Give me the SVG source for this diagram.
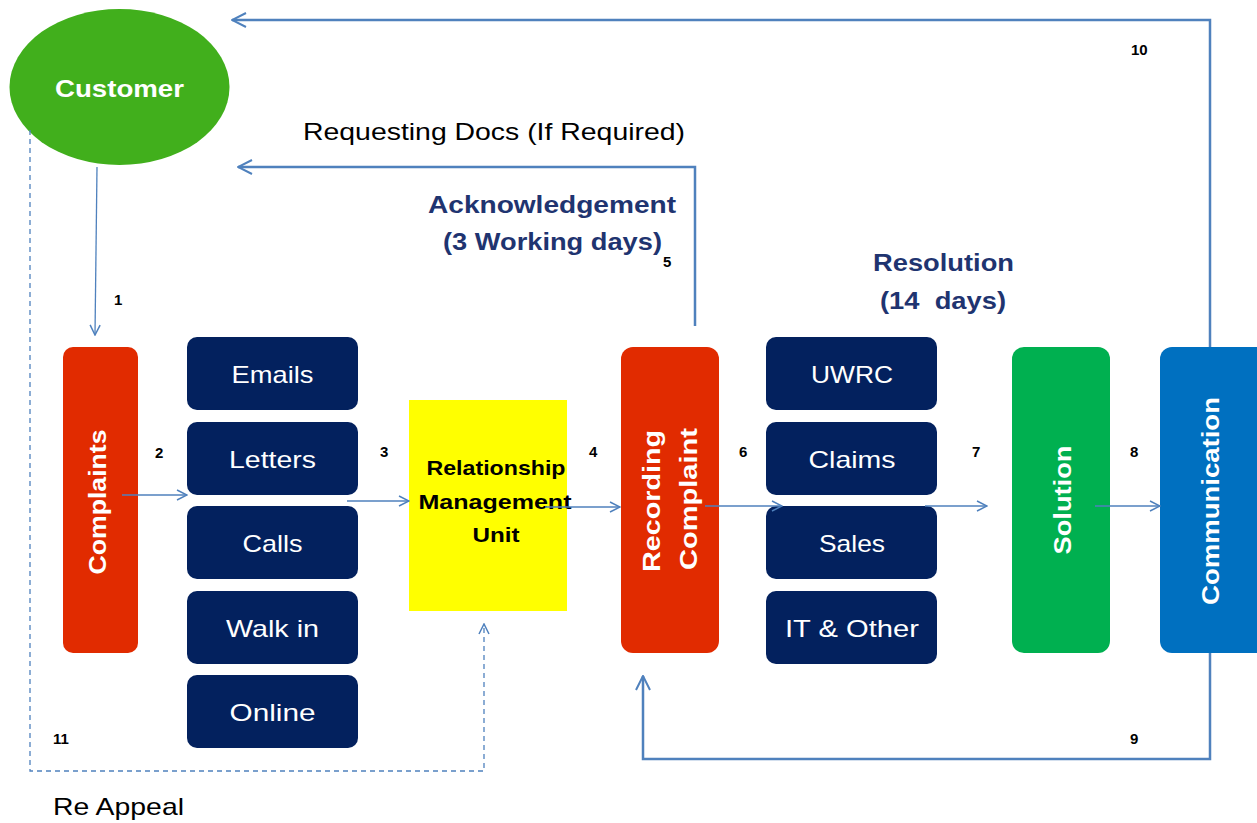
<svg xmlns="http://www.w3.org/2000/svg" width="1257" height="823" viewBox="0 0 1257 823">
  <defs>
    <marker id="open" viewBox="0 0 12 12" refX="11" refY="6" markerWidth="12" markerHeight="12" markerUnits="userSpaceOnUse" orient="auto">
      <path d="M1,1 L11,6 L1,11" fill="none" stroke="#4F81BD" stroke-width="1.5"/>
    </marker>
    <marker id="openBig" viewBox="0 0 16 16" refX="15" refY="8" markerWidth="16" markerHeight="16" markerUnits="userSpaceOnUse" orient="auto">
      <path d="M1,1 L15,8 L1,15" fill="none" stroke="#4F81BD" stroke-width="2"/>
    </marker>
    <style>
      text { font-family: "Liberation Sans", Arial, sans-serif; }
      .red { fill: #E12B00; }
      .navy { fill: #03215E; }
      .lbl { fill: #FFFFFF; font-size: 24px; text-anchor: middle; }
      .vlbl { fill: #FFFFFF; font-size: 24px; font-weight: bold; text-anchor: middle; }
      .num { fill: #000000; font-size: 15px; font-weight: bold; }
      .head { fill: #1F3470; font-size: 24px; font-weight: bold; text-anchor: middle; }
      .plain { fill: #000000; font-size: 24px; }
      .thin { fill: none; stroke: #4F81BD; stroke-width: 1.3; }
      .thick { fill: none; stroke: #4F81BD; stroke-width: 2.5; }
      .dash { fill: none; stroke: #4F81BD; stroke-width: 1.3; stroke-dasharray: 5 4; }
    </style>
  </defs>

  <rect width="1257" height="823" fill="#FFFFFF"/>

  <!-- customer -->
  <g id="customer">
    <ellipse cx="119.5" cy="87" rx="110" ry="78" fill="#41AF1C"/>
    <text x="119.5" y="97" class="vlbl" textLength="129" lengthAdjust="spacingAndGlyphs">Customer</text>
  </g>

  <!-- complaints -->
  <g id="complaints">
    <rect x="63" y="347" width="75" height="306" rx="10" class="red"/>
    <text transform="translate(106,502) rotate(-90)" class="vlbl" textLength="145" lengthAdjust="spacingAndGlyphs">Complaints</text>
  </g>

  <!-- intake channels -->
  <g id="emails">
    <rect x="187" y="337" width="171" height="73" rx="10" class="navy"/>
    <text x="272.5" y="383" class="lbl" textLength="82" lengthAdjust="spacingAndGlyphs">Emails</text>
  </g>
  <g id="letters">
    <rect x="187" y="422" width="171" height="73" rx="10" class="navy"/>
    <text x="272.5" y="468" class="lbl" textLength="87" lengthAdjust="spacingAndGlyphs">Letters</text>
  </g>
  <g id="calls">
    <rect x="187" y="506" width="171" height="73" rx="10" class="navy"/>
    <text x="272.5" y="552" class="lbl" textLength="60" lengthAdjust="spacingAndGlyphs">Calls</text>
  </g>
  <g id="walk-in">
    <rect x="187" y="591" width="171" height="73" rx="10" class="navy"/>
    <text x="272.5" y="637" class="lbl" textLength="93" lengthAdjust="spacingAndGlyphs">Walk in</text>
  </g>
  <g id="online">
    <rect x="187" y="675" width="171" height="73" rx="10" class="navy"/>
    <text x="272.5" y="721" class="lbl" textLength="86" lengthAdjust="spacingAndGlyphs">Online</text>
  </g>

  <!-- relationship management unit -->
  <g id="rmu">
    <rect x="409" y="400" width="158" height="211" fill="#FFFF00"/>
    <text x="496" y="475" style="fill:#000;font-size:21px;font-weight:bold;text-anchor:middle" textLength="139" lengthAdjust="spacingAndGlyphs">Relationship</text>
    <text x="495" y="509" style="fill:#000;font-size:21px;font-weight:bold;text-anchor:middle" textLength="153" lengthAdjust="spacingAndGlyphs">Management</text>
    <text x="496" y="542" style="fill:#000;font-size:21px;font-weight:bold;text-anchor:middle" textLength="47" lengthAdjust="spacingAndGlyphs">Unit</text>
  </g>

  <!-- recording complaint -->
  <g id="recording">
    <rect x="621" y="347" width="98" height="306" rx="12" class="red"/>
    <text transform="translate(660,501) rotate(-90)" class="vlbl" textLength="142" lengthAdjust="spacingAndGlyphs">Recording</text>
    <text transform="translate(697,499) rotate(-90)" class="vlbl" textLength="142" lengthAdjust="spacingAndGlyphs">Complaint</text>
  </g>

  <!-- departments -->
  <g id="uwrc">
    <rect x="766" y="337" width="171" height="73" rx="10" class="navy"/>
    <text x="852" y="383" class="lbl" textLength="82" lengthAdjust="spacingAndGlyphs">UWRC</text>
  </g>
  <g id="claims">
    <rect x="766" y="422" width="171" height="73" rx="10" class="navy"/>
    <text x="852" y="468" class="lbl" textLength="87" lengthAdjust="spacingAndGlyphs">Claims</text>
  </g>
  <g id="sales">
    <rect x="766" y="506" width="171" height="73" rx="10" class="navy"/>
    <text x="852" y="552" class="lbl" textLength="66" lengthAdjust="spacingAndGlyphs">Sales</text>
  </g>
  <g id="it-other">
    <rect x="766" y="591" width="171" height="73" rx="10" class="navy"/>
    <text x="852" y="637" class="lbl" textLength="134" lengthAdjust="spacingAndGlyphs">IT &amp; Other</text>
  </g>

  <!-- solution -->
  <g id="solution">
    <rect x="1012" y="347" width="98" height="306" rx="12" fill="#00B050"/>
    <text transform="translate(1071,500) rotate(-90)" class="vlbl" textLength="109" lengthAdjust="spacingAndGlyphs">Solution</text>
  </g>

  <!-- communication -->
  <g id="communication">
    <rect x="1160" y="347" width="110" height="306" rx="12" fill="#0070C0"/>
    <text transform="translate(1219,501) rotate(-90)" class="vlbl" textLength="208" lengthAdjust="spacingAndGlyphs">Communication</text>
  </g>

  <!-- connectors, drawn over the boxes -->
  <g id="connectors">
    <path class="thin" d="M97,167 L95,335" marker-end="url(#open)"/>
    <path class="thin" d="M122,495 L187,495" marker-end="url(#open)"/>
    <path class="thin" d="M347,501 L409,501" marker-end="url(#open)"/>
    <path class="thin" d="M545,507 L620,507" marker-end="url(#open)"/>
    <path class="thin" d="M705,506 L782,506" marker-end="url(#open)"/>
    <path class="thin" d="M925,506 L987,506" marker-end="url(#open)"/>
    <path class="thin" d="M1095,506 L1160,506" marker-end="url(#open)"/>
    <path class="thick" d="M1210,347 L1210,20 L232,20" marker-end="url(#openBig)"/>
    <path class="thick" d="M695,326 L695,167 L238,167" marker-end="url(#openBig)"/>
    <path class="thick" d="M1210,653 L1210,759 L643,759 L643,676" marker-end="url(#openBig)"/>
    <path class="dash" d="M30,130 L30,771 L484,771 L484,624" marker-end="url(#open)"/>
  </g>

  <!-- annotations -->
  <g id="labels">
    <text x="303" y="140" class="plain" textLength="382" lengthAdjust="spacingAndGlyphs">Requesting Docs (If Required)</text>
    <text x="552" y="213" class="head" textLength="248" lengthAdjust="spacingAndGlyphs">Acknowledgement</text>
    <text x="552.5" y="250" class="head" textLength="219" lengthAdjust="spacingAndGlyphs">(3 Working days)</text>
    <text x="943.5" y="271" class="head" textLength="141" lengthAdjust="spacingAndGlyphs">Resolution</text>
    <text x="943" y="309" class="head" xml:space="preserve" textLength="126" lengthAdjust="spacingAndGlyphs">(14  days)</text>
    <text x="53" y="815" class="plain" textLength="131" lengthAdjust="spacingAndGlyphs">Re Appeal</text>
    <text x="114" y="305" class="num">1</text>
    <text x="155" y="458" class="num">2</text>
    <text x="380" y="457" class="num">3</text>
    <text x="589" y="457" class="num">4</text>
    <text x="663" y="267" class="num">5</text>
    <text x="739" y="457" class="num">6</text>
    <text x="972" y="457" class="num">7</text>
    <text x="1130" y="457" class="num">8</text>
    <text x="1130" y="744" class="num">9</text>
    <text x="1131" y="55" class="num">10</text>
    <text x="53" y="744" class="num">11</text>
  </g>
</svg>
